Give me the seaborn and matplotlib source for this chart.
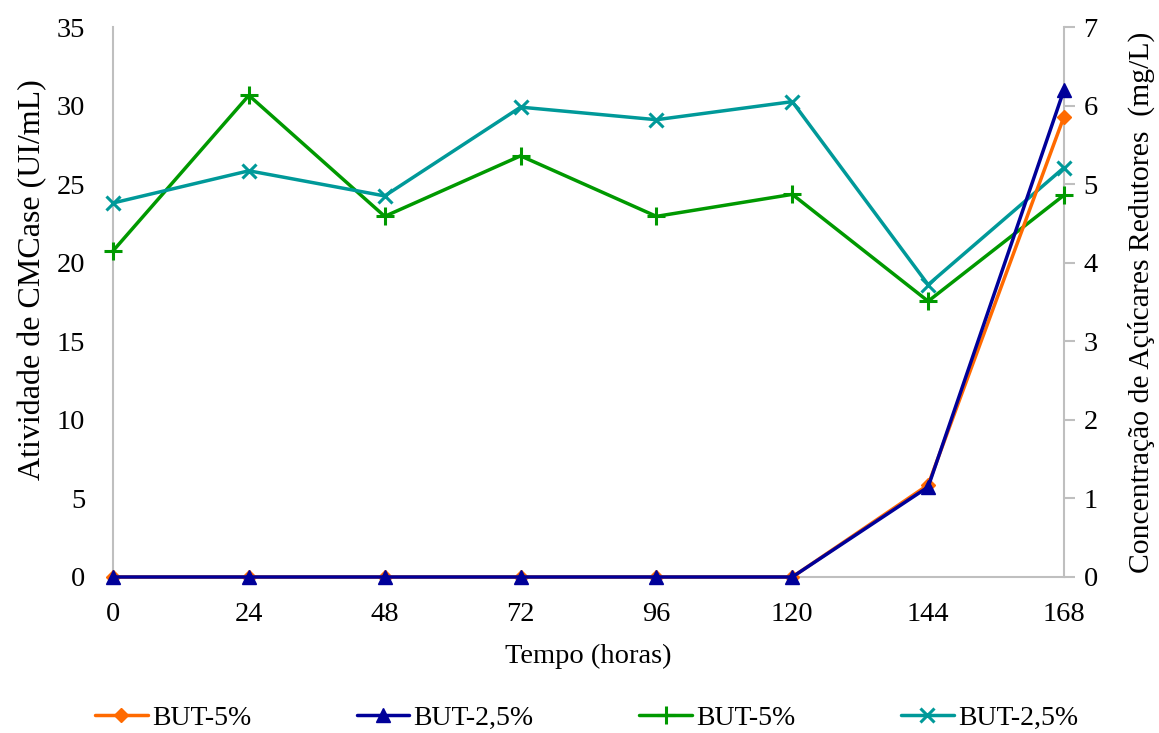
import matplotlib
matplotlib.use("Agg")
import matplotlib.pyplot as plt
import seaborn as sns
from matplotlib.lines import Line2D

sns.set_style("white")
plt.rcParams['font.family'] = ['Liberation Serif', 'DejaVu Serif']
plt.rcParams['text.color'] = 'black'
plt.rcParams['axes.labelcolor'] = 'black'
plt.rcParams['xtick.color'] = 'black'
plt.rcParams['ytick.color'] = 'black'

tempo = [0, 24, 48, 72, 96, 120, 144, 168]
# Left axis: Atividade de CMCase (UI/mL)
cmc_but5 = [0, 0, 0, 0, 0, 0, 5.86, 29.3]
cmc_but25 = [0, 0, 0, 0, 0, 0, 5.73, 31.0]
# Right axis: Concentração de Açúcares Redutores (mg/L)
ar_but5 = [4.15, 6.13, 4.59, 5.36, 4.59, 4.87, 3.51, 4.86]
ar_but25 = [4.76, 5.17, 4.85, 5.98, 5.82, 6.05, 3.72, 5.21]
labels = ["BUT-5%", "BUT-2,5%", "BUT-5%", "BUT-2,5%"]

c_orange = "#ff6a00"
c_blue = "#000099"
c_green = "#009900"
c_teal = "#009999"
gray = "#bfbfbf"

fig = plt.figure(figsize=(11.59, 7.33), dpi=100)
ax = fig.add_axes([113/1159, 1-577/733, (1064-113)/1159, 550/733])
ax2 = ax.twinx()

styles = [
    dict(color=c_orange, marker="D", markersize=7, markeredgecolor=c_orange, markeredgewidth=1, linewidth=2.5),
    dict(color=c_blue, marker="^", markersize=10, markeredgecolor=c_blue, markeredgewidth=1, linewidth=2.5),
    dict(color=c_green, marker="+", markersize=13, markeredgecolor=c_green, markeredgewidth=2.2, linewidth=2.5),
    dict(color=c_teal, marker="x", markersize=10, markeredgecolor=c_teal, markeredgewidth=2.2, linewidth=2.5),
]

sns.lineplot(x=tempo, y=ar_but5, ax=ax2, clip_on=False, zorder=2, **styles[2])
sns.lineplot(x=tempo, y=ar_but25, ax=ax2, clip_on=False, zorder=2, **styles[3])
ax.set_zorder(ax2.get_zorder() + 1)
ax.patch.set_visible(False)
sns.lineplot(x=tempo, y=cmc_but5, ax=ax, clip_on=False, zorder=3, **styles[0])
sns.lineplot(x=tempo, y=cmc_but25, ax=ax, clip_on=False, zorder=4, **styles[1])

ax.set_xlim(0, 168)
ax.set_ylim(0, 35)
ax2.set_ylim(0, 7)
ax.set_xticks(tempo)
ax.set_yticks(range(0, 36, 5))
ax2.set_yticks(range(0, 8))

fs = 20.5
ax.tick_params(axis='y', labelsize=fs, length=0, left=False, pad=20)
ax.tick_params(axis='x', labelsize=fs, length=0, pad=18)
ax2.tick_params(axis='y', labelsize=fs, length=8, width=1.5, color=gray, direction='out', right=True, pad=6)

for s in ax.spines.values():
    s.set_visible(False)
ax2.spines['top'].set_visible(False)
for s in ('left', 'right', 'bottom'):
    ax2.spines[s].set_color(gray)
    ax2.spines[s].set_linewidth(1.5)
    ax2.spines[s].set_zorder(0.5)

ax.set_xlabel("Tempo (horas)", fontsize=fs)
ax.xaxis.set_label_coords(0.5, (577 - 644) / 550)
ax.set_ylabel("Atividade de CMCase (UI/mL)", fontsize=23)
ax.yaxis.set_label_coords((47 - 113) / 951, (577 - 280) / 550)
ax2.set_ylabel("Concentração de Açúcares Redutores  (mg/L)", fontsize=21.3)
ax2.yaxis.set_label_coords((1128 - 113) / 951, (577 - 302) / 550)

handles = [Line2D([], [], **s) for s in styles]
fig.legend(handles, labels, loc="center", bbox_to_anchor=(0.5 + 7/1159, 1 - 718/733), ncol=4,
           frameon=False, fontsize=20, handlelength=1.9, handletextpad=0.15, columnspacing=3.8)

fig.savefig("out.png", dpi=100)
